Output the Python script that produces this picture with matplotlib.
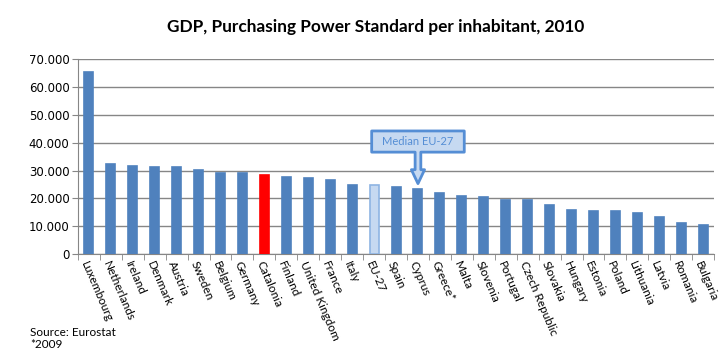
import matplotlib
matplotlib.use("Agg")
import matplotlib.pyplot as plt
from matplotlib.patches import Polygon
from matplotlib.ticker import FuncFormatter, FixedLocator
import numpy as np

countries = ["Luxembourg", "Netherlands", "Ireland", "Denmark", "Austria", "Sweden",
             "Belgium", "Germany", "Catalonia", "Finland", "United Kingdom", "France",
             "Italy", "EU-27", "Spain", "Cyprus", "Greece*", "Malta", "Slovenia",
             "Portugal", "Czech Republic", "Slovakia", "Hungary", "Estonia", "Poland",
             "Lithuania", "Latvia", "Romania", "Bulgaria"]
values = [65500, 32200, 31500, 31100, 31100, 30100, 29000, 29000, 28300, 27600,
          27300, 26600, 24800, 24700, 24100, 23400, 22000, 21000, 20600, 19600,
          19600, 17800, 15700, 15400, 15400, 14700, 13300, 11200, 10500]
yticks = [0, 10000, 20000, 30000, 40000, 50000, 60000, 70000]
title = "GDP, Purchasing Power Standard per inhabitant, 2010"
median_label = "Median EU-27"
median_country = "Cyprus"

BLUE = "#4f81bd"
GRID = "#868686"

fig = plt.figure(figsize=(7.28, 3.60), dpi=100)
ax = fig.add_axes([0.107, 0.294, 0.874, 0.542])

x = np.arange(len(countries))
faces, edges = [], []
for c in countries:
    if c == "Catalonia":
        faces.append("#ff0000"); edges.append("#ff0000")
    elif c == "EU-27":
        faces.append("#c6d9f1"); edges.append("#8eb4e3")
    else:
        faces.append(BLUE); edges.append(BLUE)
ax.bar(x, values, width=0.41, color=faces, edgecolor=edges, linewidth=1.2, zorder=3)

ax.set_xlim(-0.5, len(countries) - 0.5)
ax.set_ylim(0, 70000)
ax.set_yticks(yticks)
ax.yaxis.set_major_formatter(FuncFormatter(lambda v, p: "0" if v == 0 else f"{int(v):,}".replace(",", ".")))
ax.grid(axis="y", color=GRID, linewidth=1, zorder=0)
ax.set_axisbelow(True)
for s in ["top", "right"]:
    ax.spines[s].set_visible(False)
for s in ["left", "bottom"]:
    ax.spines[s].set_color(GRID)
ax.tick_params(axis="y", colors=GRID, length=4, pad=2, labelsize=8.5, labelcolor="black")
for lbl in ax.get_yticklabels():
    lbl.set_family("DejaVu Sans")

ax.set_xticks(x)
ax.set_xticklabels(countries, rotation=-67, ha="left", va="top", rotation_mode="anchor",
                   fontsize=8.5, family="Lato")
ax.tick_params(axis="x", which="major", length=0, pad=4)
ax.xaxis.set_minor_locator(FixedLocator(np.arange(-0.5, len(countries), 1.0)))
ax.tick_params(axis="x", which="minor", length=4, color=GRID)

fig.text(0.516, 0.925, title, ha="center", va="center",
         fontsize=12.4, fontweight="bold", family="Lato")

# Callout
ci = countries.index(median_country)
cv = values[ci]
bw, stem, head = 2.11, 0.13, 0.30
btop, bbot, hbase, tip = cv + 20800, cv + 13200, cv + 6900, cv + 1900
poly = [(ci - bw, btop), (ci + bw, btop), (ci + bw, bbot), (ci + stem, bbot),
        (ci + stem, hbase), (ci + head, hbase), (ci, tip), (ci - head, hbase),
        (ci - stem, hbase), (ci - stem, bbot), (ci - bw, bbot)]
ax.add_patch(Polygon(poly, closed=True, facecolor="#c6d9f1", edgecolor="#558ed5",
                     linewidth=2, zorder=5, joinstyle="round"))
ax.text(ci, (btop + bbot) / 2, median_label, ha="center", va="center", color="#558ed5",
        fontsize=8, family="Lato", zorder=6)

fig.text(0.041, 0.076, "Source: Eurostat", fontsize=8.5, family="Lato", va="center")
fig.text(0.041, 0.044, "*2009", fontsize=8.5, family="Lato", va="center")

fig.savefig("out.png", dpi=100)
